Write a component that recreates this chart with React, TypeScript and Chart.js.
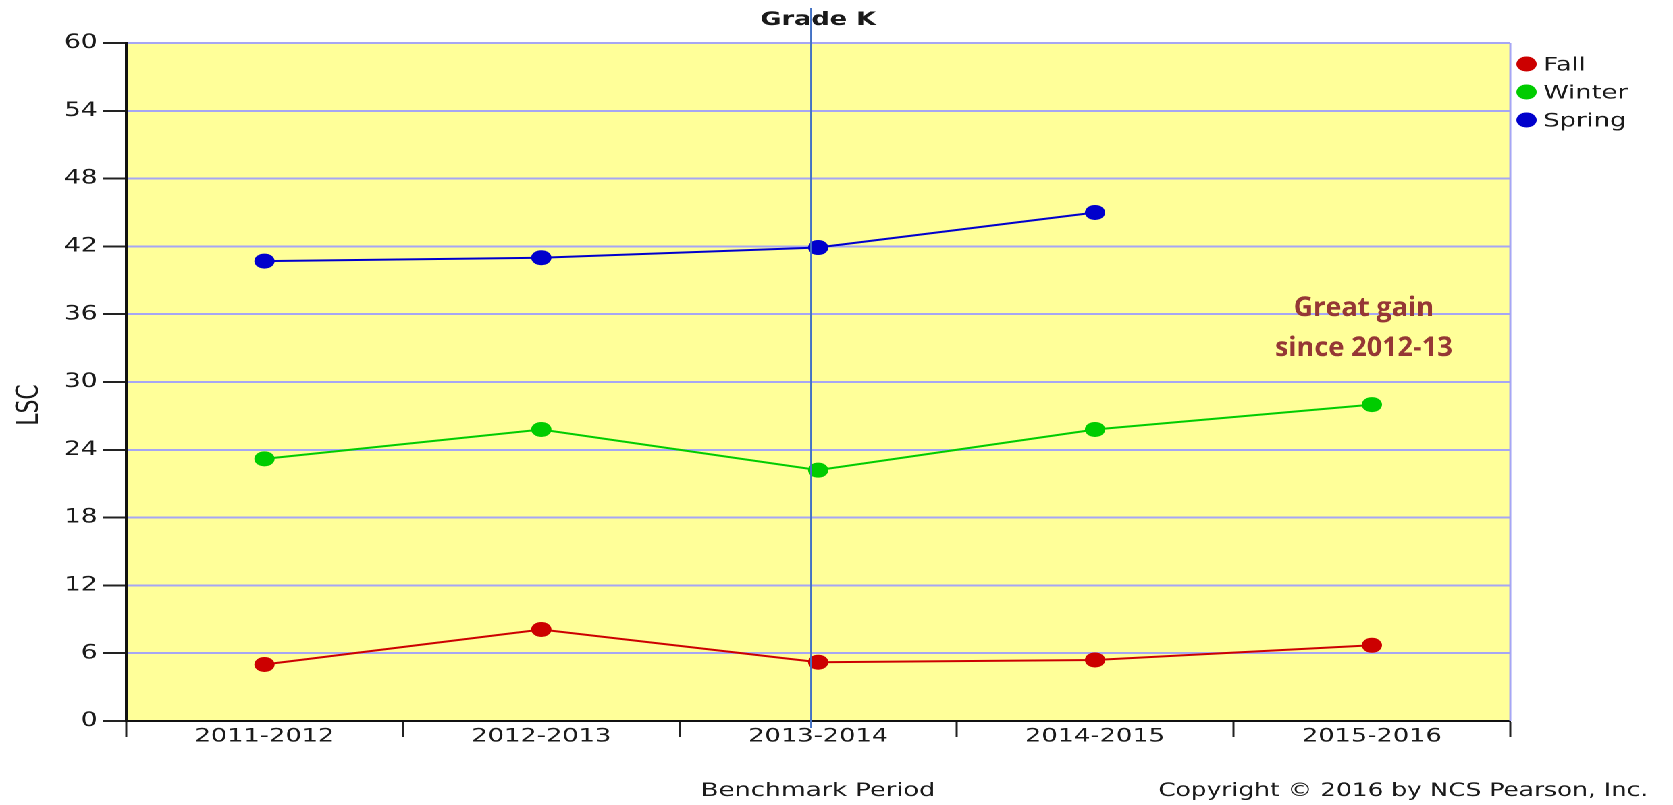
import React, { useEffect, useRef } from "react";
import { Chart, registerables } from "chart.js";

Chart.register(...registerables);

// ---- data ----
const categories = ["2011-2012", "2012-2013", "2013-2014", "2014-2015", "2015-2016"];
const fallValues = [5.0, 8.1, 5.2, 5.4, 6.7];
const winterValues = [23.2, 25.8, 22.2, 25.8, 28.0];
const springValues: (number | null)[] = [40.7, 41.0, 41.9, 45.0, null];
const seriesNames = ["Fall", "Winter", "Spring"];
const seriesColors = ["#cc0000", "#00cc00", "#0000cc"];
const yMin = 0;
const yMax = 60;
const yStep = 6;
const chartTitle = "Grade K";
const yTitle = "LSC";
const xTitle = "Benchmark Period";
const copyright = "Copyright \u00A9 2016 by NCS Pearson, Inc.";
const noteLines = ["Great gain", "since 2012-13"];
const noteValues = [36.5, 33.0];
const noteCategoryIndex = 4;
const markerCategoryIndex = 2;

// horizontal stretch of the reference image
const S = 1.35;
const W = Math.round(1673 / S);
const H = 805;
const FONT = '"DejaVu Sans", Verdana, sans-serif';

const decor = {
  id: "decor",
  beforeDraw(chart: any) {
    const { ctx, chartArea: a } = chart;
    ctx.save();
    ctx.fillStyle = "#ffff99";
    ctx.fillRect(a.left, a.top, a.right - a.left, a.bottom - a.top);
    ctx.restore();
  },
  afterDatasetsDraw(chart: any) {
    const { ctx, chartArea: a, scales } = chart;
    ctx.save();
    // right border of plot
    ctx.strokeStyle = "#a6a6f4";
    ctx.lineWidth = 1.5;
    ctx.beginPath();
    ctx.moveTo(a.right, a.top);
    ctx.lineTo(a.right, a.bottom);
    ctx.stroke();
    // vertical marker line
    const mx = scales.x.getPixelForValue(markerCategoryIndex) - 5.2;
    ctx.strokeStyle = "#4472c4";
    ctx.lineWidth = 1.4;
    ctx.beginPath();
    ctx.moveTo(mx, a.top - 35);
    ctx.lineTo(mx, a.bottom + 7);
    ctx.stroke();

    const cx = (a.left + a.right) / 2;
    ctx.fillStyle = "#1a1a1a";
    ctx.textBaseline = "middle";
    // title
    ctx.textAlign = "center";
    ctx.font = `bold 19px ${FONT}`;
    ctx.fillText(chartTitle, cx, 20);
    // x title
    ctx.font = `19px ${FONT}`;
    ctx.fillText(xTitle, cx, 791);
    // copyright
    ctx.textAlign = "right";
    ctx.font = `18.4px ${FONT}`;
    ctx.fillText(copyright, 1648 / S, 791);
    // y title
    ctx.save();
    ctx.translate(30 / S, 405);
    ctx.rotate(-Math.PI / 2);
    ctx.textAlign = "center";
    ctx.font = `22px ${FONT}`;
    ctx.fillText(yTitle, 0, 0);
    ctx.restore();
    // legend
    chart.data.datasets.forEach((ds: any, i: number) => {
      const y = a.top + 21 + i * 28;
      ctx.fillStyle = ds.backgroundColor;
      ctx.beginPath();
      ctx.arc(a.right + 12, y, 7.5, 0, Math.PI * 2);
      ctx.fill();
      ctx.fillStyle = "#1a1a1a";
      ctx.textAlign = "left";
      ctx.font = `19px ${FONT}`;
      ctx.fillText(ds.label, a.right + 24.5, y + 1.5);
    });
    // annotation (undo the stretch for this text)
    const nx = scales.x.getPixelForValue(noteCategoryIndex) - 6;
    noteLines.forEach((t, i) => {
      const ny = scales.y.getPixelForValue(noteValues[i]);
      ctx.save();
      ctx.translate(nx, ny);
      ctx.scale(1 / S, 1);
      ctx.textAlign = "center";
      ctx.fillStyle = "#953735";
      ctx.font = `bold 27px "Open Sans", sans-serif`;
      ctx.fillText(t, 0, 0);
      ctx.restore();
    });
    ctx.restore();
  },
};

export default function App() {
  const ref = useRef<HTMLCanvasElement | null>(null);
  useEffect(() => {
    if (!ref.current) return;
    const values = [fallValues, winterValues, springValues];
    const chart = new Chart(ref.current, {
      type: "line",
      data: {
        labels: categories,
        datasets: seriesNames.map((name, i) => ({
          label: name,
          data: values[i],
          borderColor: seriesColors[i],
          backgroundColor: seriesColors[i],
          pointBackgroundColor: seriesColors[i],
          pointBorderWidth: 0,
          pointRadius: 7.5,
          borderWidth: 2,
          tension: 0,
          spanGaps: false,
        })),
      },
      options: {
        responsive: false,
        devicePixelRatio: 2,
        animation: false,
        events: [],
        layout: { padding: { top: 43, right: W - 1510 / S, bottom: 0, left: 0 } },
        plugins: { legend: { display: false }, title: { display: false }, tooltip: { enabled: false } },
        scales: {
          x: {
            type: "category",
            offset: true,
            grid: {
              offset: true,
              drawOnChartArea: false,
              drawTicks: true,
              tickLength: 16,
              tickColor: "#222",
              tickWidth: 1.5,
            },
            border: { color: "#111", width: 2 },
            ticks: { padding: -12, color: "#1a1a1a", font: { family: FONT, size: 19 } },
            afterFit: (s: any) => {
              s.height = 84;
            },
          },
          y: {
            min: yMin,
            max: yMax,
            grid: { color: "#a6a6f4", lineWidth: 2, tickColor: "#222", tickLength: 17, tickWidth: 2 },
            border: { color: "#111", width: 2 },
            ticks: { stepSize: yStep, padding: 4, color: "#1a1a1a", font: { family: FONT, size: 19.5 } },
            afterFit: (s: any) => {
              s.width = 126 / S;
            },
          },
        },
      } as any,
      plugins: [decor],
    });
    return () => chart.destroy();
  }, []);
  return (
    <div
      style={{
        position: "fixed",
        left: 0,
        top: 0,
        width: W,
        height: H,
        background: "#fff",
        transform: `scaleX(${1673 / W})`,
        transformOrigin: "0 0",
      }}
    >
      <canvas ref={ref} width={W} height={H} style={{ display: "block", width: W, height: H }} />
    </div>
  );
}
